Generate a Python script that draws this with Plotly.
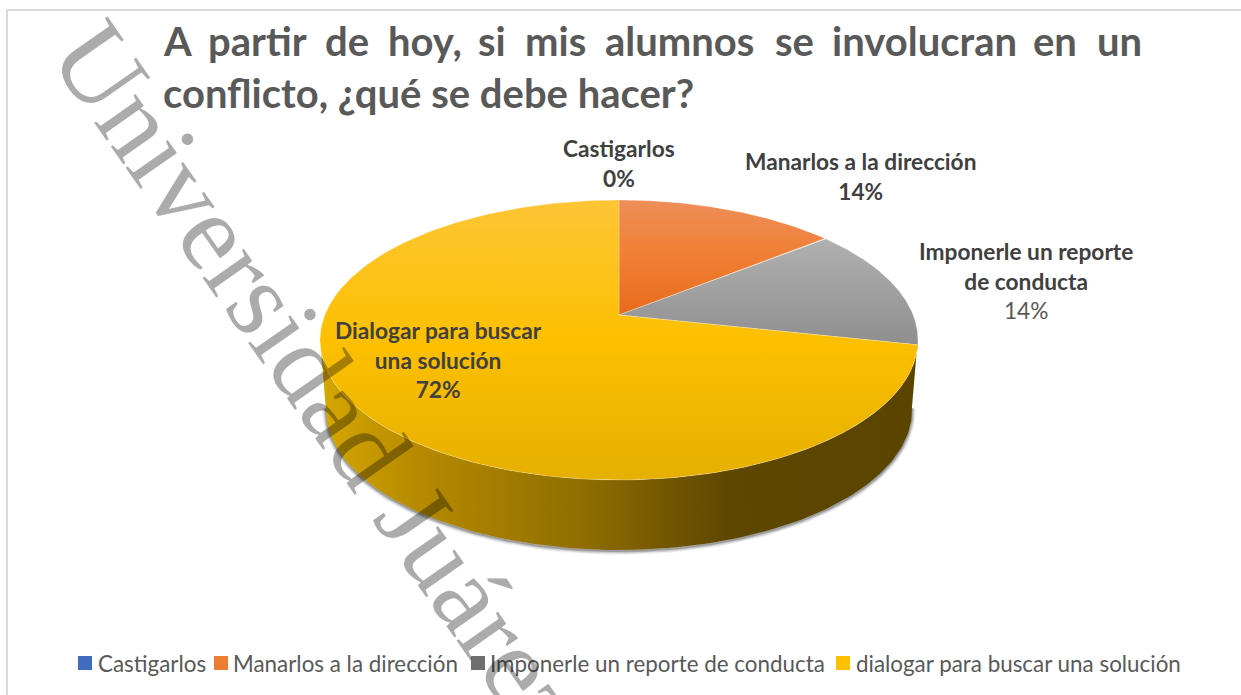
import numpy as np
import plotly.graph_objects as go

# ---- data ----
categories = ["Castigarlos", "Manarlos a la dirección", "Imponerle un reporte de conducta", "dialogar para buscar una solución"]
values = [0, 14.2, 14.2, 71.6]
label_lines = [["Castigarlos"], ["Manarlos a la dirección"], ["Imponerle un reporte", "de conducta"], ["Dialogar para buscar", "una solución"]]
pct_labels = ["0%", "14%", "14%", "72%"]
legend_colors = ["#3F6CBF", "#ED7D31", "#6E6E6E", "#FFC000"]
title_line1 = ["A", "partir", "de", "hoy,", "si", "mis", "alumnos", "se", "involucran", "en", "un"]
title_line2 = "conflicto, ¿qué se debe hacer?"
watermark = "Universidad Juárez"

# ---- pie geometry (page pixels) ----
CX, CY, RX, RY, APEX_UP = 619, 340, 299, 140, 25
DEPTH, BOTTOM_RX = 70, 293
FONT = "Lato"
k = APEX_UP / RY
a = RX * np.sqrt(1 - k * k)


def project(theta):
    u, v = np.sin(theta), np.cos(theta)
    d = 1 + k * v
    return CX + a * u / d, CY - (RY * v + APEX_UP) / d


fig = go.Figure()

# soft shadow under the wall
t = np.linspace(np.pi / 2 - 0.02, 3 * np.pi / 2 + 0.02, 160)
bx = CX + BOTTOM_RX * np.sin(t)
by = CY + DEPTH - RY * np.cos(t)
for w, al in [(8, 0.05), (6, 0.08), (4, 0.12), (2, 0.2)]:
    fig.add_trace(go.Scatter(x=bx, y=by + 1, mode="lines", line=dict(color=f"rgba(0,0,0,{al})", width=w),
                             showlegend=False, hoverinfo="skip"))

# wall of the big slice
tt = np.linspace(np.pi / 2 - 0.02, 3 * np.pi / 2, 160)
topx = CX + RX * np.sin(tt)
topy = CY - RY * np.cos(tt)
wx = np.r_[CX + BOTTOM_RX * np.sin(tt), topx[::-1]]
wy = np.r_[CY + DEPTH - RY * np.cos(tt), topy[::-1]]
fig.add_trace(go.Scatter(
    x=wx, y=wy, mode="lines", fill="toself", line=dict(width=0), showlegend=False, hoverinfo="skip",
    fillgradient=dict(type="horizontal", start=320, stop=918,
                      colorscale=[[0, "#D6A800"], [0.15, "#B88C00"], [0.45, "#8E6C00"], [0.68, "#5E4700"], [1, "#5A4400"]])))

# top-face slices from the values
gradients = [None,
             ["#EE8E58", "#F07F33", "#E86A1C"],
             ["#B0B0B0", "#A0A0A0", "#8E8E8E"],
             ["#FDC535", "#FDC000", "#E6B000"]]
fracs = np.cumsum([0] + values) / sum(values)
for i in range(len(values)):
    if values[i] == 0:
        continue
    th = np.linspace(fracs[i], fracs[i + 1], 200) * 2 * np.pi
    px, py = project(th)
    ax, ay = CX, CY - APEX_UP
    xs, ys = np.r_[ax, px, ax], np.r_[ay, py, ay]
    g = gradients[i]
    top, bot = ys.min(), ys.max()
    fig.add_trace(go.Scatter(
        x=xs, y=ys, mode="lines", fill="toself", line=dict(width=0.6, color="rgba(255,255,255,0.45)"),
        showlegend=False, hoverinfo="skip",
        fillgradient=dict(type="vertical", start=top, stop=bot,
                          colorscale=[[0, g[0]], [0.5, g[1]], [1, g[2]]])))

# legend row: swatch plus text, spaced as in the reference
swatch_x = [85, 221, 478, 843]
legend_text_x = [96, 231, 488, 854]
LEGEND_Y = 663
for name, col, sx, tx in zip(categories, legend_colors, swatch_x, legend_text_x):
    fig.add_trace(go.Scatter(x=[sx], y=[LEGEND_Y], mode="markers", name=name, showlegend=False,
                             marker=dict(symbol="square", size=14, color=col)))
    fig.add_annotation(x=tx, y=LEGEND_Y, text=name, showarrow=False, xanchor="left", yanchor="middle",
                       font=dict(family=FONT, size=22.4, color="#595959"))

# slice labels
label_pos = [(619, 163), (860, 176), (1026, 281), (438, 360)]
for i, (lines, pct, (x, y)) in enumerate(zip(label_lines, pct_labels, label_pos)):
    body = "<br>".join(f"<b>{s}</b>" for s in lines)
    txt = f"{body}<br><span style='color:#595959'>{pct}</span>" if i == 2 else f"{body}<br><b>{pct}</b>"
    fig.add_annotation(x=x, y=y, text=txt, showarrow=False, font=dict(family=FONT, size=22.7, color="#404040"),
                       align="center", xanchor="center", yanchor="middle")

# justified title: first line spread across the chart width
word_x = [161, 206, 323, 386, 476, 523, 603, 773, 830, 1031, 1095]
for w, x in zip(title_line1, word_x):
    fig.add_annotation(x=x, y=41, text=f"<b>{w}</b>", showarrow=False, xanchor="left", yanchor="middle",
                       font=dict(family=FONT, size=40, color="#595959"))
fig.add_annotation(x=161, y=93, text=f"<b>{title_line2}</b>", showarrow=False, xanchor="left", yanchor="middle",
                   font=dict(family=FONT, size=40, color="#595959"))

# watermark
fig.add_annotation(x=320, y=381, text=watermark, showarrow=False, textangle=55, xanchor="center", yanchor="middle",
                   font=dict(family="Liberation Serif", size=110, color="rgba(0,0,0,0.33)"))

fig.update_layout(
    width=1241, height=695, margin=dict(l=0, r=0, t=0, b=0), paper_bgcolor="white", plot_bgcolor="white",
    xaxis=dict(range=[0, 1241], visible=False, fixedrange=True),
    yaxis=dict(range=[695, 0], visible=False, fixedrange=True),
    showlegend=False,
    shapes=[dict(type="rect", xref="x", yref="y", x0=7, y0=10, x1=1250, y1=710,
                 line=dict(color="#D9D9D9", width=2), layer="below")],
)
fig.write_html("out.html", config=dict(displayModeBar=False),
               post_script="document.body.style.margin='0';document.documentElement.style.overflow='hidden';")
